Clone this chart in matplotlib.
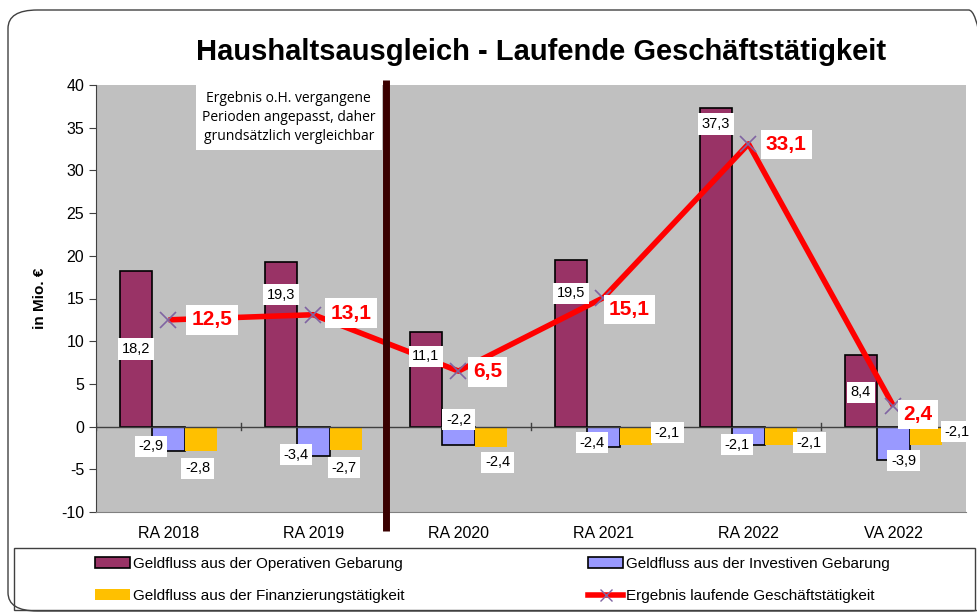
import matplotlib
matplotlib.use("Agg")
import matplotlib.pyplot as plt
import numpy as np
from matplotlib.patches import FancyBboxPatch, Patch
from matplotlib.lines import Line2D

categories = ["RA 2018", "RA 2019", "RA 2020", "RA 2021", "RA 2022", "VA 2022"]
operativ = [18.2, 19.3, 11.1, 19.5, 37.3, 8.4]
investiv = [-2.9, -3.4, -2.2, -2.4, -2.1, -3.9]
finanz = [-2.8, -2.7, -2.4, -2.1, -2.1, -2.1]
ergebnis = [12.5, 13.1, 6.5, 15.1, 33.1, 2.4]
yticks = list(range(-10, 41, 5))

title = "Haushaltsausgleich - Laufende Geschäftstätigkeit"
note = "Ergebnis o.H. vergangene\nPerioden angepasst, daher\ngrundsätzlich vergleichbar"
labels = ["Geldfluss aus der Operativen Gebarung",
          "Geldfluss aus der Investiven Gebarung",
          "Geldfluss aus der Finanzierungstätigkeit",
          "Ergebnis laufende Geschäftstätigkeit"]

C_OP = "#993366"
C_INV = "#9999FF"
C_FIN = "#FFC000"
C_BG = "#C0C0C0"
C_RED = "#FF0000"

def fmt(v):
    return f"{v:.1f}".replace(".", ",")

plt.rcParams['font.family'] = ['Liberation Sans', 'DejaVu Sans']

fig = plt.figure(figsize=(9.78, 6.15), dpi=100)
W, H = 978, 615

# outer rounded frame
frame = FancyBboxPatch((8 / W, 4 / H), (W + 20) / W - 8 / W, (H - 14) / H,
                       boxstyle="round,pad=0,rounding_size=0.03",
                       transform=fig.transFigure, fill=False,
                       edgecolor="#404040", linewidth=1.0, zorder=0)
fig.patches.append(frame)

ax = fig.add_axes([96 / W, 1 - 512 / H, (966 - 96) / W, (512 - 85) / H])
ax.set_facecolor(C_BG)

x = np.arange(len(categories))
bw = 0.225
ax.bar(x - bw, operativ, bw, color=C_OP, edgecolor="black", linewidth=1.2, zorder=2)
ax.bar(x, investiv, bw, color=C_INV, edgecolor="black", linewidth=1.2, zorder=2)
ax.bar(x + bw, finanz, bw, color=C_FIN, edgecolor="none", zorder=2)

ax.axhline(0, color="#404040", linewidth=1.0, zorder=3)
# category tick marks on zero line
for k in range(len(categories) + 1):
    ax.plot([k - 0.5, k - 0.5], [-0.4, 0.4], color="#404040", linewidth=1.0, zorder=3)

ax.plot(x, ergebnis, color=C_RED, linewidth=4, zorder=5, solid_capstyle="butt")
ax.plot(x, ergebnis, linestyle="none", marker="x", markersize=11,
        markeredgecolor="#8064A2", markeredgewidth=1.2, zorder=6)

# divider line
ax.plot([1.5, 1.5], [40.6, -12.2], color="#3A0000", linewidth=5, zorder=7,
        clip_on=False, solid_capstyle="butt")

box = dict(boxstyle="square,pad=0.25", facecolor="white", edgecolor="none")
small = 10.5

# operative labels
op_frac = [0.5, 0.8, 0.74, 0.8, 0.95, 0.48]
for i, v in enumerate(operativ):
    ax.text(x[i] - bw, v * op_frac[i], fmt(v), ha="center", va="center",
            fontsize=small, bbox=box, zorder=8)

inv_pos = [(-0.12, -2.3), (-0.12, -3.3), (0.0, 0.8), (-0.08, -1.9), (-0.08, -2.1), (0.07, -4.0)]
for i, v in enumerate(investiv):
    dx, y = inv_pos[i]
    ax.text(x[i] + dx, y, fmt(v), ha="center", va="center",
            fontsize=small, bbox=box, zorder=8)

fin_pos = [(0.2, -4.9), (0.21, -4.8), (0.27, -4.2), (0.44, -0.7), (0.42, -1.9), (0.44, -0.6)]
for i, v in enumerate(finanz):
    dx, y = fin_pos[i]
    ax.text(x[i] + dx, y, fmt(v), ha="center", va="center",
            fontsize=small, bbox=box, zorder=8)

erg_pos = [(0.3, 0.0), (0.26, 0.2), (0.2, -0.1), (0.18, -1.4), (0.26, -0.1), (0.17, -1.0)]
for i, v in enumerate(ergebnis):
    dx, dy = erg_pos[i]
    ax.text(x[i] + dx, v + dy, fmt(v), ha="center", va="center",
            fontsize=15, fontweight="bold", color=C_RED, bbox=box, zorder=9)

ax.text(0.83, 36.2, note, ha="center", va="center", fontsize=10,
        family=["Open Sans", "DejaVu Sans"], linespacing=1.35,
        bbox=dict(boxstyle="square,pad=0.45", facecolor="white", edgecolor="none"),
        zorder=8)

ax.set_xlim(-0.5, len(categories) - 0.5)
ax.set_ylim(-10, 40)
ax.set_yticks(yticks)
ax.set_yticklabels([str(t) for t in yticks], fontsize=11.5)
ax.set_xticks(x)
ax.set_xticklabels(categories, fontsize=11.5)
ax.tick_params(axis="x", length=0, pad=10)
ax.tick_params(axis="y", length=5, direction="out", color="#404040")
for s in ["top", "right"]:
    ax.spines[s].set_visible(False)
ax.spines["left"].set_color("#404040")
ax.spines["bottom"].set_color("#808080")
ax.set_ylabel("in Mio. €", fontsize=11, fontweight="bold", labelpad=10)

fig.text(541 / W, 1 - 52 / H, title, ha="center", va="center",
         fontsize=21, fontweight="bold")

handles = [Patch(facecolor=C_OP, edgecolor="black", linewidth=1.2),
           Patch(facecolor=C_FIN, edgecolor="none"),
           Patch(facecolor=C_INV, edgecolor="black", linewidth=1.2),
           Line2D([0], [0], color=C_RED, linewidth=4, marker="x",
                  markeredgecolor="#8064A2", markersize=8)]
leg_labels = [labels[0], labels[2], labels[1], labels[3]]
leg = fig.legend(handles, leg_labels, ncol=2, loc="center",
                 bbox_to_anchor=((10 + 975) / 2 / W, 1 - 580 / H),
                 fontsize=11, frameon=False, handlelength=2.3,
                 handletextpad=0.2, columnspacing=12, labelspacing=1.2)
legbox = plt.Rectangle((14 / W, 1 - 610 / H), (975 - 14) / W, (610 - 548) / H,
                       transform=fig.transFigure, fill=False,
                       edgecolor="#404040", linewidth=1.0)
fig.patches.append(legbox)

fig.savefig("out.png", dpi=100)
